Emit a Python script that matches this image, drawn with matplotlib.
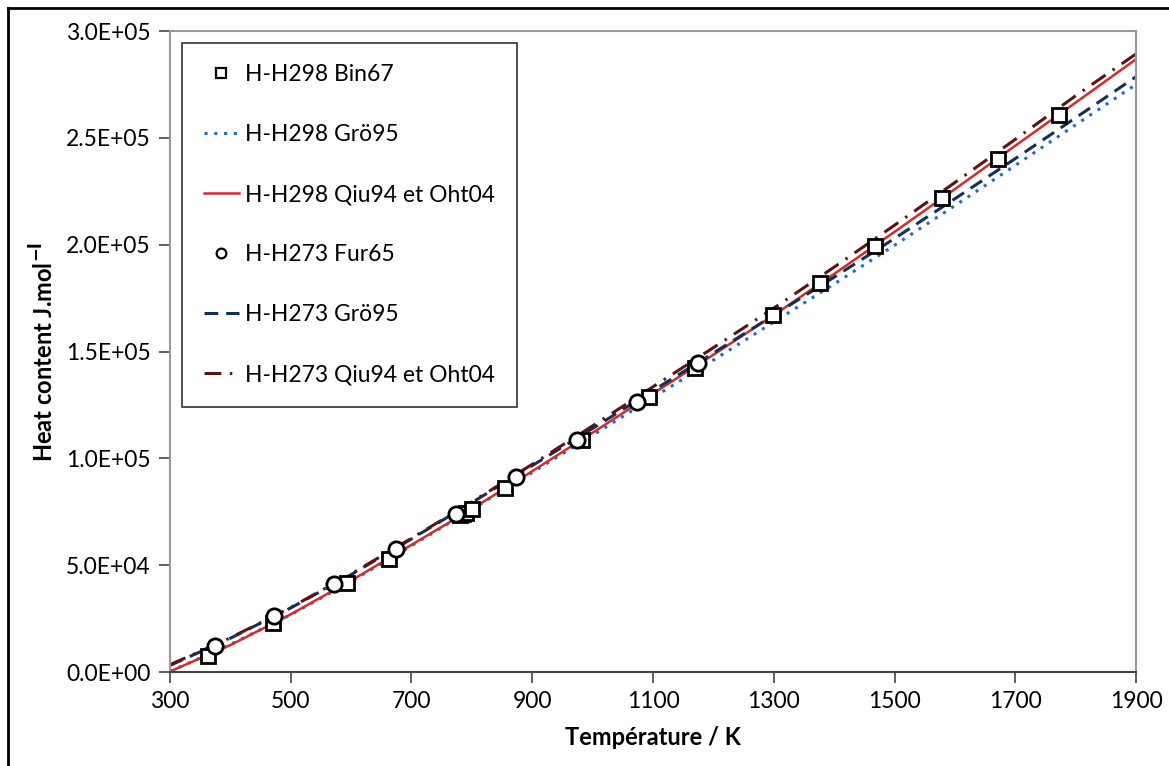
import numpy as np
import matplotlib
matplotlib.use("Agg")
import matplotlib.pyplot as plt
from matplotlib.ticker import FuncFormatter
from matplotlib.lines import Line2D

plt.rcParams['font.family'] = ['Lato', 'DejaVu Sans']

# Bin67, H-H298 (squares)
t_bin = [363, 471, 593, 662, 781, 786, 791, 800, 855, 982, 1094, 1170, 1299, 1377, 1467, 1578, 1672, 1773]
h_bin = [7400, 22950, 41700, 53100, 73500, 74000, 74300, 76200, 86200, 108500, 128800, 142100,
         167000, 181900, 199400, 221700, 240000, 260700]

# Fur65, H-H273 (circles)
t_fur = [375, 473, 572, 674, 774, 873, 974, 1074, 1174]
h_fur = [12200, 26100, 41100, 57800, 74100, 91300, 108500, 126400, 144400]

# calculated curves
t_calc = [300, 400, 500, 600, 700, 800, 900, 1000, 1100, 1200, 1300, 1400, 1500, 1600, 1700, 1800, 1900]
h298_gro = [250, 12900, 26800, 42400, 59100, 76100, 93400, 110800, 128400, 146000, 163800,
            181600, 199700, 218300, 237100, 256100, 275000]
h298_qiu = [250, 12600, 27000, 42800, 59500, 76300, 94000, 112000, 130300, 148500, 167000,
            186300, 206000, 226000, 246300, 266500, 286800]
h273_gro = [3100, 15800, 30000, 45600, 62300, 79300, 96600, 114000, 131700, 149300, 167000,
            184800, 202900, 221500, 240300, 259400, 278600]
h273_qiu = [3400, 16000, 30200, 45900, 62600, 79600, 97200, 115200, 133500, 151800, 170300,
            189500, 209100, 229100, 249300, 269700, 289300]

fig = plt.figure(figsize=(11.69, 7.66), dpi=100)
ax = fig.add_axes([0.1454, 0.1227, 0.8264, 0.8368])

ax.plot(t_bin, h_bin, 's', ms=10, mfc='white', mec='black', mew=2, zorder=5,
        label='H-H298 Bin67')
ax.plot(t_calc, h298_gro, color='#1f6cc4', lw=2.2, ls=(0, (1, 2.2)),
        label='H-H298 Grö95')
ax.plot(t_calc, h298_qiu, color='#d42a2a', lw=1.8, label='H-H298 Qiu94 et Oht04')
ax.plot(t_fur, h_fur, 'o', ms=11, mfc='white', mec='black', mew=2, zorder=6,
        label='H-H273 Fur65')
ax.plot(t_calc, h273_gro, color='#152f5c', lw=2.2, ls=(0, (4.5, 2.6)),
        label='H-H273 Grö95')
ax.plot(t_calc, h273_qiu, color='#5a1510', lw=2.2, ls=(0, (5.5, 2.8, 0.8, 2.8)),
        label='H-H273 Qiu94 et Oht04')

ax.set_xlim(300, 1900)
ax.set_ylim(0, 300000)
ax.set_xticks(np.arange(300, 1901, 200))
ax.set_yticks(np.arange(0, 300001, 50000))
ax.yaxis.set_major_formatter(FuncFormatter(lambda v, p: '{:.1E}'.format(v)))
ax.tick_params(axis='both', direction='out', length=8, width=1.2, color='#444444',
               labelsize=16.5, pad=6)

for s in ['left', 'top', 'right']:
    ax.spines[s].set_color('#999999')
    ax.spines[s].set_linewidth(1.5)
ax.spines['bottom'].set_color('#444444')
ax.spines['bottom'].set_linewidth(1.5)

ax.set_xlabel('Température / K', fontsize=17, fontweight='bold', labelpad=10)
ax.set_ylabel('Heat content J.mol$^{\\mathbf{-l}}$', fontsize=17, fontweight='bold', labelpad=6)

leg = ax.legend(loc='upper left', bbox_to_anchor=(0.0124, 0.982), borderaxespad=0,
                fontsize=16.5, frameon=True, fancybox=False, edgecolor='black',
                handlelength=1.55, handletextpad=0.25, labelspacing=1.7,
                borderpad=0.95, numpoints=1)
leg.get_frame().set_linewidth(1.2)
for h in leg.legend_handles:
    if h.get_marker() in ('s', 'o'):
        h.set_markersize(7)
        h.set_markeredgewidth(1.6)

# outer frame of the picture
fig.add_artist(Line2D([8 / 1169, 8 / 1169], [0, 1 - 8 / 766], color='black', lw=2,
                      transform=fig.transFigure))
fig.add_artist(Line2D([8 / 1169, 1], [1 - 8 / 766, 1 - 8 / 766], color='black', lw=2,
                      transform=fig.transFigure))

plt.savefig('out.png', dpi=100)
